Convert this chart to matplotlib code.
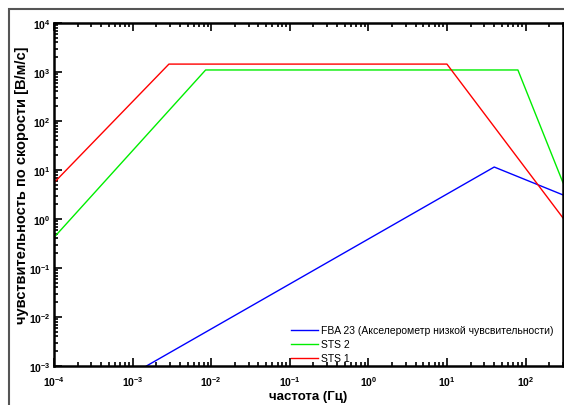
import matplotlib
matplotlib.use('Agg')
import matplotlib.pyplot as plt
from matplotlib.patches import Rectangle

# sensitivity curves (frequency Hz, velocity sensitivity V/m/s)
fba_f = [1.5e-3, 40, 300]
fba_s = [1e-3, 11.5, 3.1]
sts2_f = [1e-4, 8.5e-3, 80, 300]
sts2_s = [0.42, 1100, 1100, 5.5]
sts1_f = [1e-4, 2.9e-3, 10, 300]
sts1_s = [5.5, 1450, 1450, 1.05]
names = ['FBA 23 (Акселерометр низкой чувсвительности)', 'STS 2', 'STS 1']

plt.rcParams['font.family'] = ['Liberation Sans', 'DejaVu Sans']
plt.rcParams['axes.unicode_minus'] = False

fig = plt.figure(figsize=(5.64, 4.06), dpi=100)
ax = fig.add_axes([54/564, 39/406, 509/564, 343/406])

ax.plot(fba_f, fba_s, color='#0000ff', lw=1, label=names[0])
ax.plot(sts2_f, sts2_s, color='#00ee00', lw=1, label=names[1])
ax.plot(sts1_f, sts1_s, color='#ff0000', lw=1, label=names[2])

ax.set_xscale('log')
ax.set_yscale('log')
ax.set_xlim(1e-4, 300)
ax.set_ylim(1e-3, 1e4)

ax.set_xlabel('частота (Гц)', fontsize=9.5, fontweight='bold', labelpad=1)
ax.set_ylabel('чувствительность по скорости [В/м/с]', fontsize=10.5, fontweight='bold')
ax.yaxis.set_label_coords(-0.05, 0.53)

for s in ax.spines.values():
    s.set_linewidth(1.8)
ax.tick_params(which='both', direction='in', top=True, right=False, width=1.2)
ax.tick_params(which='major', length=6, labelsize=7.5)
ax.tick_params(which='minor', length=3)
ax.tick_params(axis='x', which='major', pad=6)
ax.tick_params(axis='y', which='major', pad=2.5)
for t in ax.get_xticklabels() + ax.get_yticklabels():
    t.set_fontweight('bold')

ax.legend(loc='lower right', frameon=False, fontsize=7.5, handlelength=2.6,
          handletextpad=0.3, labelspacing=0.4, bbox_to_anchor=(1.0, -0.02))

fig.patches.append(Rectangle((9/564, -0.1), 1.2, 1.1 - 10/406, transform=fig.transFigure,
                             fill=False, edgecolor='#555555', lw=1.5))

fig.savefig('out.png', dpi=100)
